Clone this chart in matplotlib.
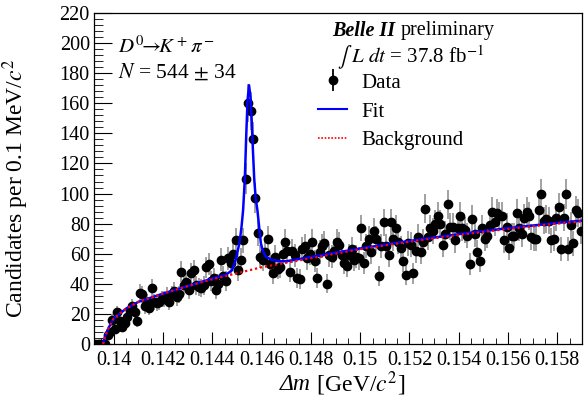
import numpy as np
import matplotlib.pyplot as plt
from matplotlib.lines import Line2D
from matplotlib.ticker import MultipleLocator, FuncFormatter

plt.rcParams['font.family'] = 'Liberation Serif'
plt.rcParams['mathtext.fontset'] = 'stix'

# histogram: 0.1 MeV bins starting at 0.1392 GeV
bin_lo = 0.1392
bin_w = 0.0001
counts = [0, 0, 0, 0, 0, 6, 8, 16, 10, 21,
          15, 11, 14, 18, 22, 25, 21, 15, 34, 33,
          25, 28, 24, 37, 28, 27, 28, 30, 30, 32,
          28, 33, 35, 31, 33, 48, 39, 41, 36, 47,
          49, 39, 38, 37, 39, 51, 53, 42, 44, 36,
          40, 56, 45, 42, 57, 54, 60, 69, 49, 56,
          69, 110, 160, 155, 136, 97, 74, 58, 56, 61,
          70, 53, 47, 58, 50, 51, 60, 68, 62, 48,
          62, 59, 44, 43, 63, 65, 57, 60, 68, 55,
          44, 61, 65, 67, 40, 59, 58, 62, 68, 66,
          59, 54, 52, 59, 63, 56, 58, 57, 77, 54,
          65, 70, 61, 75, 70, 45, 65, 81, 65, 59,
          81, 70, 77, 68, 64, 55, 46, 67, 66, 47,
          62, 71, 61, 68, 90, 71, 77, 75, 80, 85,
          80, 66, 73, 93, 78, 78, 69, 77, 85, 77,
          76, 72, 53, 83, 73, 61, 55, 77, 70, 72,
          79, 88, 81, 87, 85, 85, 69, 78, 64, 72,
          72, 87, 77, 73, 84, 88, 85, 71, 70, 70,
          89, 100, 82, 83, 82, 69, 70, 84, 91, 63,
          84, 100, 63, 79, 67, 89, 87, 75]

# fit curves
fit_x = [0.13957, 0.13965, 0.1397, 0.1398, 0.1399, 0.1400, 0.1405, 0.1410,
         0.1420, 0.1430, 0.1440, 0.14455, 0.1448, 0.14495, 0.1451, 0.14518,
         0.14525, 0.14532, 0.14538, 0.14543, 0.14549, 0.14555, 0.1456,
         0.14565, 0.1457, 0.14576, 0.14583, 0.1459, 0.14597, 0.14605,
         0.14617, 0.1464, 0.14671, 0.1470, 0.1480, 0.1500, 0.1520, 0.1540,
         0.1560, 0.1580, 0.1590]
fit_y = [0, 5, 7, 11, 14, 17, 23.5, 28,
         33.5, 38.5, 43.5, 46, 49, 56, 67, 77,
         89, 110, 140, 162, 172, 164, 148,
         128, 110, 97, 89, 78, 67, 62,
         58, 56, 55, 55, 57.8, 63.5, 68.5, 73,
         77, 80.5, 82]
bkg_x = [0.13957, 0.13965, 0.1397, 0.1398, 0.1399, 0.1400, 0.1405, 0.1410,
         0.1420, 0.1430, 0.1440, 0.1450, 0.1460, 0.1470, 0.1480, 0.1500,
         0.1520, 0.1540, 0.1560, 0.1580, 0.1590]
bkg_y = [0, 5, 7, 11, 14, 17, 23.5, 28,
         33.5, 38.5, 43, 47, 51, 54, 57, 63,
         68, 72.5, 76.5, 80, 81.5]

x = bin_lo + bin_w * (np.arange(len(counts)) + 0.5)
y = np.array(counts, dtype=float)
err = np.sqrt(y)

W, H = 585, 397
fig = plt.figure(figsize=(W / 100, H / 100), dpi=100)
ax = fig.add_axes([94 / W, 1 - 344 / H, (582 - 94) / W, (344 - 13) / H])

ax.errorbar(x, y, yerr=err, fmt='none', ecolor='#9a9a9a', elinewidth=1.3, zorder=2)
ax.plot(x, y, 'o', color='k', ms=6, zorder=3)
ax.plot(fit_x, fit_y, color='#0000ff', lw=1.8, zorder=4)
ax.plot(bkg_x, bkg_y, color='#ff0000', lw=1.6, ls=(0, (1, 1.3)), zorder=5)

ax.set_xlim(0.1392, 0.159)
ax.set_ylim(0, 220)
ax.xaxis.set_major_locator(MultipleLocator(0.002))
ax.xaxis.set_minor_locator(MultipleLocator(0.0005))
ax.yaxis.set_major_locator(MultipleLocator(20))
ax.yaxis.set_minor_locator(MultipleLocator(4))
ax.xaxis.set_major_formatter(FuncFormatter(lambda v, p: '%g' % round(v, 4)))
ax.tick_params(which='both', direction='in', top=False, right=False, labelsize=14.5)
ax.tick_params(axis='x', which='major', length=9, pad=5)
ax.tick_params(axis='x', which='minor', length=4.5)
ax.tick_params(axis='y', which='major', length=13, pad=3)
ax.tick_params(axis='y', which='minor', length=6.5)
for s in ax.spines.values():
    s.set_linewidth(0.9)

# x title: italic Delta m followed by upright unit
t_dm = fig.text(280 / W, 1 - 384 / H, '\u0394m', fontsize=17, style='italic', va='center')
ax.annotate(r' [GeV/$c^2$]', xy=(1, 0.5), xycoords=t_dm, va='center',
            fontsize=17, annotation_clip=False)

ax.set_ylabel(r'Candidates per 0.1 MeV/$c^2$', fontsize=17)
ax.yaxis.set_label_coords(-0.13, 0.47)

fig.text(118 / W, 1 - 47 / H, r'$D^0\!\!\rightarrow\!\! K^+\pi^-$', fontsize=15, va='center')
fig.text(118 / W, 1 - 72 / H, r'$N$ = 544 $\pm$ 34', fontsize=15.5, va='center')

fig.text(332 / W, 1 - 31 / H, 'Belle II', fontsize=14.5, fontweight='bold',
         fontstyle='italic', va='center')
fig.text(401 / W, 1 - 31 / H, 'preliminary', fontsize=14.5, va='center')
fig.text(337 / W, 1 - 58 / H, r'$\int$ $L\ dt$ = 37.8 fb$^{-1}$', fontsize=15, va='center')

data_h = (Line2D([], [], marker='|', ms=16, mew=1.3, color='k', ls='None'),
          Line2D([], [], marker='o', ms=6, color='k', ls='None'))
fit_h = Line2D([], [], color='#0000ff', lw=1.5)
bkg_h = Line2D([], [], color='#ff0000', lw=1.2, ls=(0, (1, 1)))
ax.legend([data_h, fit_h, bkg_h], ['Data', 'Fit', 'Background'],
          loc='upper left', bbox_to_anchor=(318 / W, 1 - 73 / H),
          bbox_transform=fig.transFigure, frameon=False, fontsize=15,
          handlelength=1.4, handletextpad=0.7, labelspacing=0.45,
          borderpad=0, borderaxespad=0)

fig.savefig('out.png', dpi=100)
